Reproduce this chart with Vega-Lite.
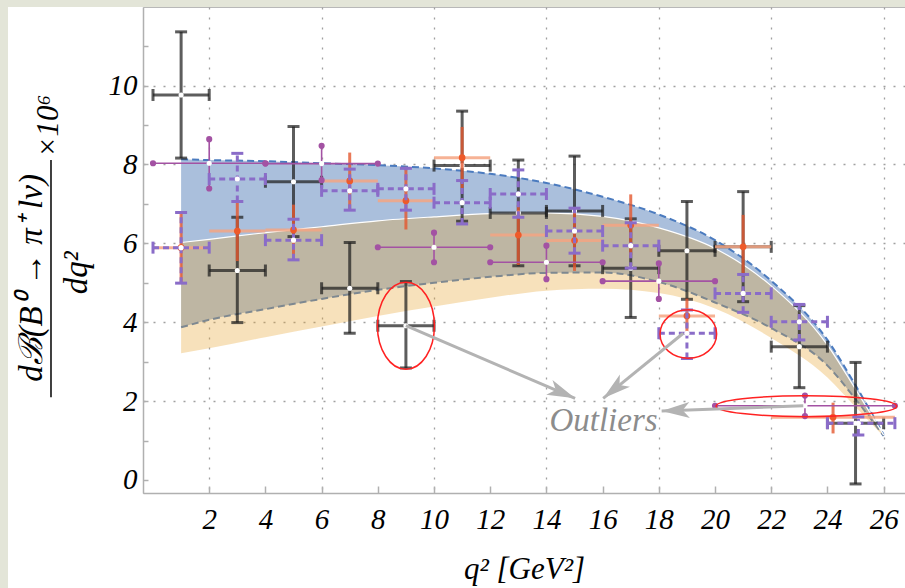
{
"$schema":"https://vega.github.io/schema/vega-lite/v6.json",
"width":762,"height":486,
"autosize":{"type":"none"},
"padding":{"left":143,"top":7,"right":0,"bottom":95},
"background":"#ffffff",
"config":{"view":{"stroke":"#b8b8b8","strokeWidth":1}},
"datasets":{
"bands":[
{"x":1,"bhi":8.13,"blo":3.87,"ohi":6.02,"olo":3.21},
{"x":2,"bhi":8.11,"blo":4.06,"ohi":6.1,"olo":3.34},
{"x":4,"bhi":8.08,"blo":4.33,"ohi":6.27,"olo":3.62},
{"x":6,"bhi":8.03,"blo":4.59,"ohi":6.42,"olo":3.89},
{"x":8,"bhi":7.98,"blo":4.82,"ohi":6.57,"olo":4.16},
{"x":10,"bhi":7.9,"blo":5.0,"ohi":6.67,"olo":4.4},
{"x":12,"bhi":7.76,"blo":5.15,"ohi":6.75,"olo":4.62},
{"x":14,"bhi":7.53,"blo":5.25,"ohi":6.77,"olo":4.8},
{"x":16,"bhi":7.18,"blo":5.26,"ohi":6.68,"olo":4.85},
{"x":18,"bhi":6.73,"blo":5.02,"ohi":6.39,"olo":4.74},
{"x":20,"bhi":6.08,"blo":4.5,"ohi":5.87,"olo":4.35},
{"x":22,"bhi":5.05,"blo":3.85,"ohi":4.92,"olo":3.6},
{"x":24,"bhi":3.55,"blo":2.9,"ohi":3.42,"olo":2.6},
{"x":25,"bhi":2.4,"blo":2.05,"ohi":2.3,"olo":1.85},
{"x":26,"bhi":1.15,"blo":1.12,"ohi":1.14,"olo":1.1}
],
"belle":[
{"x":1,"xlo":0,"xhi":2,"y":9.76,"ylo":8.16,"yhi":11.36},
{"x":3,"xlo":2,"xhi":4,"y":5.31,"ylo":3.99,"yhi":6.66},
{"x":5,"xlo":4,"xhi":6,"y":7.56,"ylo":6.17,"yhi":8.96},
{"x":7,"xlo":6,"xhi":8,"y":4.86,"ylo":3.72,"yhi":6.02},
{"x":9,"xlo":8,"xhi":10,"y":3.91,"ylo":2.84,"yhi":5.03},
{"x":11,"xlo":10,"xhi":12,"y":7.97,"ylo":6.56,"yhi":9.35},
{"x":13,"xlo":12,"xhi":14,"y":6.77,"ylo":5.43,"yhi":8.11},
{"x":15,"xlo":14,"xhi":16,"y":6.82,"ylo":5.43,"yhi":8.21},
{"x":17,"xlo":16,"xhi":18,"y":5.37,"ylo":4.12,"yhi":6.62},
{"x":19,"xlo":18,"xhi":20,"y":5.81,"ylo":4.58,"yhi":7.06},
{"x":21,"xlo":20,"xhi":22,"y":5.91,"ylo":4.52,"yhi":7.31},
{"x":23,"xlo":22,"xhi":24,"y":3.38,"ylo":2.34,"yhi":4.42},
{"x":25,"xlo":24,"xhi":26,"y":1.44,"ylo":-0.1,"yhi":2.98}
],
"babar":[
{"x":1,"xlo":0,"xhi":2,"y":5.89,"ylo":5.0,"yhi":6.78},
{"x":3,"xlo":2,"xhi":4,"y":6.31,"ylo":5.55,"yhi":7.05},
{"x":5,"xlo":4,"xhi":6,"y":6.34,"ylo":5.7,"yhi":6.98},
{"x":7,"xlo":6,"xhi":8,"y":7.58,"ylo":6.85,"yhi":8.3},
{"x":9,"xlo":8,"xhi":10,"y":7.08,"ylo":6.35,"yhi":7.94},
{"x":11,"xlo":10,"xhi":12,"y":8.17,"ylo":7.4,"yhi":8.95},
{"x":13,"xlo":12,"xhi":14,"y":6.21,"ylo":5.45,"yhi":6.97},
{"x":15,"xlo":14,"xhi":16,"y":6.07,"ylo":5.3,"yhi":6.85},
{"x":17,"xlo":16,"xhi":18,"y":6.46,"ylo":5.7,"yhi":7.24},
{"x":19,"xlo":18,"xhi":20,"y":4.16,"ylo":3.72,"yhi":4.6},
{"x":21,"xlo":20,"xhi":22,"y":5.91,"ylo":5.24,"yhi":6.72},
{"x":24.2,"xlo":22,"xhi":26.4,"y":1.59,"ylo":1.18,"yhi":1.96}
],
"pthin":[
{"x":2,"xlo":0,"xhi":4,"y":8.03,"ylo":7.39,"yhi":8.64},
{"x":6,"xlo":4,"xhi":8,"y":8.02,"ylo":7.6,"yhi":8.47},
{"x":10,"xlo":8,"xhi":12,"y":5.9,"ylo":5.52,"yhi":6.27},
{"x":14,"xlo":12,"xhi":16,"y":5.52,"ylo":5.09,"yhi":5.94},
{"x":18,"xlo":16,"xhi":20,"y":5.04,"ylo":4.59,"yhi":5.49},
{"x":23.2,"xlo":20,"xhi":26.4,"y":1.88,"ylo":1.62,"yhi":2.14}
],
"pdash":[
{"x":1,"xlo":0,"xhi":2,"y":5.89,"ylo":4.99,"yhi":6.78},
{"x":3,"xlo":2,"xhi":4,"y":7.63,"ylo":7.06,"yhi":8.28},
{"x":5,"xlo":4,"xhi":6,"y":6.08,"ylo":5.58,"yhi":6.61},
{"x":7,"xlo":6,"xhi":8,"y":7.33,"ylo":6.84,"yhi":7.88},
{"x":9,"xlo":8,"xhi":10,"y":7.38,"ylo":6.84,"yhi":7.9},
{"x":11,"xlo":10,"xhi":12,"y":7.03,"ylo":6.49,"yhi":7.59},
{"x":13,"xlo":12,"xhi":14,"y":7.25,"ylo":6.66,"yhi":7.86},
{"x":15,"xlo":14,"xhi":16,"y":6.31,"ylo":5.75,"yhi":6.89},
{"x":17,"xlo":16,"xhi":18,"y":5.94,"ylo":5.37,"yhi":6.52},
{"x":19,"xlo":18,"xhi":20,"y":3.72,"ylo":3.08,"yhi":4.31},
{"x":21,"xlo":20,"xhi":22,"y":4.73,"ylo":4.25,"yhi":5.21},
{"x":23,"xlo":22,"xhi":24,"y":4.01,"ylo":3.55,"yhi":4.45},
{"x":25.1,"xlo":24,"xhi":26.4,"y":1.44,"ylo":1.14,"yhi":1.6}
],
"outl":[
{"id":"e1","x":9.0,"y":3.91},
{"id":"e2","x":19.05,"y":3.7},
{"id":"e3","x":23.25,"y":1.87}
],
"arrows":[
{"id":"a1","x":9.0,"y":3.91,"x2":15.02,"y2":2.07},
{"id":"a2","x":18.87,"y":3.72,"x2":16.02,"y2":2.07},
{"id":"a3","x":23.14,"y":1.88,"x2":18.1,"y2":1.75}
]
},
"layer":[
{"data":{"name":"bands"},"mark":{"type":"area","color":"#aabfdc","opacity":1,"interpolate":"monotone"},
 "encoding":{
  "x":{"field":"x","type":"quantitative","scale":{"domain":[-0.356,26.76],"nice":false,"zero":false},
   "axis":{"values":[2,4,6,8,10,12,14,16,18,20,22,24,26],"title":"q² [GeV²]","grid":true,"gridColor":"#a0a0a0","gridDash":[2,8],"gridWidth":1.3,
    "gridOpacity":{"condition":{"test":"datum.value % 4 === 2","value":1},"value":0},
    "tickSize":-7,"tickColor":"#b0b0b0","tickWidth":1.5,"domainColor":"#b0b0b0","domainWidth":1.5,
    "labelFont":"'Liberation Serif', 'Times New Roman', Times, serif","labelFontStyle":"italic","labelFontSize":29,"labelColor":"#000000","labelPadding":19,"labelFlush":false,"labelOverlap":false,
    "titleFont":"'Liberation Serif', 'Times New Roman', Times, serif","titleFontStyle":"italic","titleFontWeight":"normal","titleFontSize":31,"titleColor":"#000000","titlePadding":20}},
  "y":{"field":"blo","type":"quantitative","scale":{"domain":[-0.33,11.99],"nice":false,"zero":false},
   "axis":{"values":[0,0.5,1,1.5,2,2.5,3,3.5,4,4.5,5,5.5,6,6.5,7,7.5,8,8.5,9,9.5,10,10.5,11,11.5],"title":null,
    "labelExpr":"datum.value % 2 === 0 && datum.value <= 10 ? datum.label : ''",
    "grid":true,"gridColor":"#a0a0a0","gridDash":[2,8],"gridWidth":1.3,
    "gridOpacity":{"condition":{"test":"datum.value % 2 === 0 && datum.value > 0 && datum.value <= 10","value":1},"value":0},
    "tickSize":-5,"tickColor":"#b0b0b0","tickWidth":1.5,"domainColor":"#b0b0b0","domainWidth":1.5,
    "labelFont":"'Liberation Serif', 'Times New Roman', Times, serif","labelFontStyle":"italic","labelFontSize":29,"labelColor":"#000000","labelPadding":11,"labelOverlap":false}},
  "y2":{"field":"bhi"}}},
{"data":{"name":"bands"},"mark":{"type":"line","color":"#4b7bbf","strokeWidth":2,"strokeDash":[7,4],"interpolate":"monotone"},
 "encoding":{"x":{"field":"x","type":"quantitative"},"y":{"field":"bhi","type":"quantitative"}}},
{"data":{"name":"bands"},"mark":{"type":"line","color":"#4b7bbf","strokeWidth":2,"strokeDash":[7,4],"interpolate":"monotone"},
 "encoding":{"x":{"field":"x","type":"quantitative"},"y":{"field":"blo","type":"quantitative"}}},
{"data":{"name":"bands"},"mark":{"type":"area","color":"#e6a430","opacity":0.33,"interpolate":"monotone"},
 "encoding":{"x":{"field":"x","type":"quantitative"},"y":{"field":"olo","type":"quantitative"},"y2":{"field":"ohi"}}},
{"data":{"name":"bands"},"mark":{"type":"line","color":"#ffffff","strokeWidth":1.2,"interpolate":"monotone"},
 "encoding":{"x":{"field":"x","type":"quantitative"},"y":{"field":"ohi","type":"quantitative"}}},

{"data":{"name":"belle"},"mark":{"type":"rule","color":"#1e1e1e","opacity":0.72,"strokeWidth":3},
 "encoding":{"x":{"field":"x","type":"quantitative"},"y":{"field":"ylo","type":"quantitative"},"y2":{"field":"yhi"}}},
{"data":{"name":"belle"},"mark":{"type":"rule","color":"#1e1e1e","opacity":0.72,"strokeWidth":3},
 "encoding":{"x":{"field":"xlo","type":"quantitative"},"x2":{"field":"xhi"},"y":{"field":"y","type":"quantitative"}}},
{"data":{"name":"belle"},"transform":[{"fold":["ylo","yhi"],"as":["k","v"]}],
 "mark":{"type":"tick","orient":"horizontal","size":12,"thickness":3,"color":"#1e1e1e","opacity":0.72},
 "encoding":{"x":{"field":"x","type":"quantitative"},"y":{"field":"v","type":"quantitative"}}},
{"data":{"name":"belle"},"transform":[{"fold":["xlo","xhi"],"as":["k","v"]}],
 "mark":{"type":"tick","orient":"vertical","size":12,"thickness":3,"color":"#1e1e1e","opacity":0.72},
 "encoding":{"x":{"field":"v","type":"quantitative"},"y":{"field":"y","type":"quantitative"}}},
{"data":{"name":"belle"},"mark":{"type":"point","filled":true,"color":"#ffffff","size":26,"opacity":1},
 "encoding":{"x":{"field":"x","type":"quantitative"},"y":{"field":"y","type":"quantitative"}}},

{"data":{"name":"babar"},"mark":{"type":"rule","color":"#e4572e","opacity":0.8,"strokeWidth":3},
 "encoding":{"x":{"field":"x","type":"quantitative"},"y":{"field":"ylo","type":"quantitative"},"y2":{"field":"yhi"}}},
{"data":{"name":"babar"},"mark":{"type":"rule","color":"#f4a582","opacity":0.85,"strokeWidth":3},
 "encoding":{"x":{"field":"xlo","type":"quantitative"},"x2":{"field":"xhi"},"y":{"field":"y","type":"quantitative"}}},
{"data":{"name":"babar"},"mark":{"type":"point","filled":true,"color":"#ee5a2a","size":45,"opacity":1},
 "encoding":{"x":{"field":"x","type":"quantitative"},"y":{"field":"y","type":"quantitative"}}},

{"data":{"name":"pthin"},"mark":{"type":"rule","color":"#a352a3","opacity":1,"strokeWidth":1.6},
 "encoding":{"x":{"field":"x","type":"quantitative"},"y":{"field":"ylo","type":"quantitative"},"y2":{"field":"yhi"}}},
{"data":{"name":"pthin"},"mark":{"type":"rule","color":"#a352a3","opacity":1,"strokeWidth":1.6},
 "encoding":{"x":{"field":"xlo","type":"quantitative"},"x2":{"field":"xhi"},"y":{"field":"y","type":"quantitative"}}},
{"data":{"name":"pthin"},"transform":[{"fold":["ylo","yhi"],"as":["k","v"]}],
 "mark":{"type":"point","filled":true,"color":"#a352a3","size":38,"opacity":1},
 "encoding":{"x":{"field":"x","type":"quantitative"},"y":{"field":"v","type":"quantitative"}}},
{"data":{"name":"pthin"},"transform":[{"fold":["xlo","xhi"],"as":["k","v"]}],
 "mark":{"type":"point","filled":true,"color":"#a352a3","size":38,"opacity":1},
 "encoding":{"x":{"field":"v","type":"quantitative"},"y":{"field":"y","type":"quantitative"}}},
{"data":{"name":"pthin"},"mark":{"type":"point","filled":true,"color":"#ffffff","size":26,"opacity":1},
 "encoding":{"x":{"field":"x","type":"quantitative"},"y":{"field":"y","type":"quantitative"}}},

{"data":{"name":"pdash"},"mark":{"type":"rule","color":"#8a6cc8","opacity":1,"strokeWidth":3,"strokeDash":[6,4]},
 "encoding":{"x":{"field":"x","type":"quantitative"},"y":{"field":"ylo","type":"quantitative"},"y2":{"field":"yhi"}}},
{"data":{"name":"pdash"},"mark":{"type":"rule","color":"#8a6cc8","opacity":1,"strokeWidth":3,"strokeDash":[6,4]},
 "encoding":{"x":{"field":"xlo","type":"quantitative"},"x2":{"field":"xhi"},"y":{"field":"y","type":"quantitative"}}},
{"data":{"name":"pdash"},"transform":[{"fold":["ylo","yhi"],"as":["k","v"]}],
 "mark":{"type":"tick","orient":"horizontal","size":12,"thickness":3,"color":"#8a6cc8","opacity":1},
 "encoding":{"x":{"field":"x","type":"quantitative"},"y":{"field":"v","type":"quantitative"}}},
{"data":{"name":"pdash"},"transform":[{"fold":["xlo","xhi"],"as":["k","v"]}],
 "mark":{"type":"tick","orient":"vertical","size":12,"thickness":3,"color":"#8a6cc8","opacity":1},
 "encoding":{"x":{"field":"v","type":"quantitative"},"y":{"field":"y","type":"quantitative"}}},
{"data":{"name":"pdash"},"mark":{"type":"point","filled":true,"color":"#ffffff","size":26,"opacity":1},
 "encoding":{"x":{"field":"x","type":"quantitative"},"y":{"field":"y","type":"quantitative"}}},

{"data":{"name":"outl"},"transform":[{"filter":"datum.id === 'e1'"}],
 "mark":{"type":"point","filled":false,"color":"#ff2222","strokeWidth":1.5,"opacity":1,"size":7569,
  "shape":"M 0 -1 C 0.362 -1 0.655 -0.552 0.655 0 C 0.655 0.552 0.362 1 0 1 C -0.362 1 -0.655 0.552 -0.655 0 C -0.655 -0.552 -0.362 -1 0 -1 Z"},
 "encoding":{"x":{"field":"x","type":"quantitative"},"y":{"field":"y","type":"quantitative"}}},
{"data":{"name":"outl"},"transform":[{"filter":"datum.id === 'e2'"}],
 "mark":{"type":"point","filled":false,"color":"#ff2222","strokeWidth":1.5,"opacity":1,"size":3204,
  "shape":"M 0 -0.855 C 0.552 -0.855 1 -0.472 1 0 C 1 0.472 0.552 0.855 0 0.855 C -0.552 0.855 -1 0.472 -1 0 C -1 -0.472 -0.552 -0.855 0 -0.855 Z"},
 "encoding":{"x":{"field":"x","type":"quantitative"},"y":{"field":"y","type":"quantitative"}}},
{"data":{"name":"outl"},"transform":[{"filter":"datum.id === 'e3'"}],
 "mark":{"type":"point","filled":false,"color":"#ff2222","strokeWidth":1.5,"opacity":1,"size":32616,
  "shape":"M 0 -0.116 C 0.552 -0.116 1 -0.064 1 0 C 1 0.064 0.552 0.116 0 0.116 C -0.552 0.116 -1 0.064 -1 0 C -1 -0.064 -0.552 -0.116 0 -0.116 Z"},
 "encoding":{"x":{"field":"x","type":"quantitative"},"y":{"field":"y","type":"quantitative"}}},

{"data":{"name":"arrows"},"mark":{"type":"rule","color":"#b3b3b3","strokeWidth":3,"opacity":1},
 "encoding":{"x":{"field":"x","type":"quantitative"},"y":{"field":"y","type":"quantitative"},"x2":{"field":"x2"},"y2":{"field":"y2"}}},
{"data":{"name":"arrows"},"transform":[{"filter":"datum.id === 'a1'"}],
 "mark":{"type":"point","filled":true,"color":"#b3b3b3","opacity":1,"size":400,"angle":113.2,"shape":"M 0 0 L 0.8 2.8 L 0 2.1 L -0.8 2.8 Z"},
 "encoding":{"x":{"field":"x2","type":"quantitative"},"y":{"field":"y2","type":"quantitative"}}},
{"data":{"name":"arrows"},"transform":[{"filter":"datum.id === 'a2'"}],
 "mark":{"type":"point","filled":true,"color":"#b3b3b3","opacity":1,"size":400,"angle":230.9,"shape":"M 0 0 L 0.8 2.8 L 0 2.1 L -0.8 2.8 Z"},
 "encoding":{"x":{"field":"x2","type":"quantitative"},"y":{"field":"y2","type":"quantitative"}}},
{"data":{"name":"arrows"},"transform":[{"filter":"datum.id === 'a3'"}],
 "mark":{"type":"point","filled":true,"color":"#b3b3b3","opacity":1,"size":400,"angle":267.9,"shape":"M 0 0 L 0.8 2.8 L 0 2.1 L -0.8 2.8 Z"},
 "encoding":{"x":{"field":"x2","type":"quantitative"},"y":{"field":"y2","type":"quantitative"}}},

{"data":{"values":[{}]},"mark":{"type":"text","text":"Outliers","font":"'Liberation Serif', 'Times New Roman', Times, serif","fontStyle":"italic","fontSize":33,"color":"#8c8c8c","align":"center","baseline":"middle"},
 "encoding":{"x":{"datum":16.03},"y":{"datum":1.5}}},
{"data":{"values":[{}]},"mark":{"type":"text","text":"dℬ(B⁰ → π⁺ lν)","font":"'Liberation Serif', 'Times New Roman', Times, serif","fontStyle":"italic","fontSize":33,"color":"#000000","align":"center","baseline":"middle","angle":270},
 "encoding":{"x":{"datum":-4.3},"y":{"datum":5.12}}},
{"data":{"values":[{}]},"mark":{"type":"text","text":"dq²","font":"'Liberation Serif', 'Times New Roman', Times, serif","fontStyle":"italic","fontSize":33,"color":"#000000","align":"center","baseline":"middle","angle":270},
 "encoding":{"x":{"datum":-2.7},"y":{"datum":5.25}}},
{"data":{"values":[{}]},"mark":{"type":"text","text":"×10⁶","font":"'Liberation Serif', 'Times New Roman', Times, serif","fontStyle":"italic","fontSize":31,"color":"#000000","align":"center","baseline":"middle","angle":270},
 "encoding":{"x":{"datum":-3.7},"y":{"datum":8.97}}},
{"data":{"values":[{}]},"mark":{"type":"rule","color":"#000000","strokeWidth":1.5},
 "encoding":{"x":{"datum":-3.63},"y":{"datum":2.1},"y2":{"datum":8.11}}},

{"data":{"values":[{}]},"mark":{"type":"rect","color":"#e3e5d8","opacity":1},
 "encoding":{"x":{"datum":-7},"x2":{"datum":-5.16},"y":{"datum":-4},"y2":{"datum":13}}},
{"data":{"values":[{}]},"mark":{"type":"rect","color":"#e3e5d8","opacity":1},
 "encoding":{"x":{"datum":-7},"x2":{"datum":29},"y":{"datum":11.99},"y2":{"datum":13}}}
]
}
